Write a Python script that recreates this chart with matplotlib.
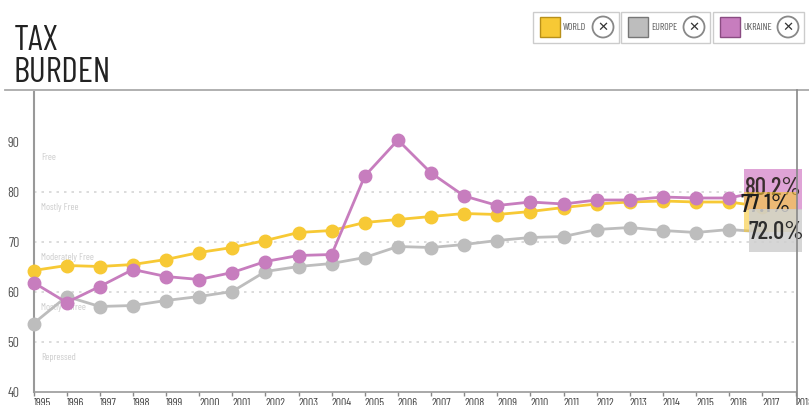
import matplotlib
matplotlib.use("Agg")
import matplotlib.pyplot as plt
from matplotlib.patches import Rectangle, Ellipse
from matplotlib.lines import Line2D

years = list(range(1995, 2018))
world = [64.3, 65.3, 65.1, 65.5, 66.5, 67.9, 68.9, 70.3, 71.9, 72.3, 73.9, 74.5,
         75.1, 75.7, 75.5, 76.1, 76.9, 77.6, 78.0, 78.2, 78.0, 78.0, 77.1]
europe = [53.7, 59.1, 57.1, 57.3, 58.3, 59.1, 60.1, 64.1, 65.1, 65.7, 66.9, 69.1,
          68.9, 69.5, 70.3, 70.9, 71.1, 72.5, 72.9, 72.3, 71.9, 72.5, 72.0]
ukraine = [61.9, 57.9, 61.1, 64.5, 63.1, 62.5, 63.9, 66.1, 67.3, 67.5, 83.2, 90.4,
           83.8, 79.2, 77.3, 78.0, 77.6, 78.4, 78.4, 79.0, 78.8, 78.8, 80.2]
tick_years = list(range(1995, 2019))
y_ticks = [40, 50, 60, 70, 80, 90]
zones = ["Free", "Mostly Free", "Moderately Free", "Mostly Unfree", "Repressed"]
zone_y = [87, 77, 67, 57, 47]
series_names = ["WORLD", "EUROPE", "UKRAINE"]
final_labels = ["77.1%", "72.0%", "80.2%"]

C_WORLD = "#F7C935"
C_EUROPE = "#BDBDBD"
C_UKR = "#C77DBE"

COND = ["Barlow Condensed", "DejaVu Sans"]

W, H = 809, 405
fig = plt.figure(figsize=(W / 100, H / 100), dpi=100)
ax = fig.add_axes([33.5 / W, (H - 392) / H, (795.5 - 33.5) / W, (392 - 92) / H])
ax.set_xlim(1995, 2018)
ax.set_ylim(40, 100)

for g in [50, 60, 70, 80]:
    ax.axhline(g, color="#D5D5D5", lw=1.2, ls=(0, (1.5, 3)), zorder=1)
for z, zy in zip(zones, zone_y):
    ax.text(1995.22, zy, z, color="#CCCCCC", fontsize=7, family=COND, va="center")

for vals, c in [(europe, C_EUROPE), (world, C_WORLD), (ukraine, C_UKR)]:
    ax.plot(years, vals, color=c, lw=2, marker="o", ms=9, zorder=3, clip_on=False)


def fig_rect(x0, y0, x1, y1, **kw):
    """Rectangle given in pixel coords from top-left of figure."""
    r = Rectangle((x0 / W, (H - y1) / H), (x1 - x0) / W, (y1 - y0) / H,
                  transform=fig.transFigure, **kw)
    fig.add_artist(r)
    return r


# end labels with boxes (layered like the reference)
fig_rect(744, 169, 802, 210, fc="#DFA3D6", ec="none", zorder=10)
fig.text(773.5 / W, (H - 188.5) / H, final_labels[2], fontsize=18, family=COND, ha="center",
         va="center", color="#3A2E2E", fontweight="medium", zorder=11)
fig_rect(744, 192, 797, 232, fc=C_WORLD, ec="none", alpha=0.6, zorder=12)
fig.text(766 / W, (H - 205) / H, final_labels[0], fontsize=18, family=COND, ha="center",
         va="center", color="#1E1E1E", fontweight="medium", zorder=13)
fig_rect(749, 209, 802, 252, fc="#CFCFCF", ec="none", alpha=0.85, zorder=14)
fig.text(776 / W, (H - 232.5) / H, final_labels[1], fontsize=18, family=COND, ha="center",
         va="center", color="#2E2E2E", fontweight="medium", zorder=15)

ax.set_xticks(tick_years)
ax.set_xticklabels([str(y) for y in tick_years], fontsize=8.5, family=COND, color="#444444",
                   ha="left")
ax.set_yticks(y_ticks)
ax.set_yticklabels([str(v) for v in y_ticks], fontsize=10, family=COND, color="#555555")
ax.tick_params(axis="x", length=3, width=1, color="#888888", pad=1)
ax.tick_params(axis="y", length=0, pad=10)
for s in ["top", "right"]:
    ax.spines[s].set_visible(False)
ax.spines["left"].set_color("#999999")
ax.spines["left"].set_linewidth(1.5)
ax.spines["bottom"].set_color("#999999")
ax.spines["bottom"].set_linewidth(1.2)

# right vertical line at 2018
fig.add_artist(Line2D([797 / W, 797 / W], [0, (H - 90) / H], color="#888888", lw=1.2,
                      zorder=20))
# top horizontal rule
fig.add_artist(Line2D([5 / W, 1], [(H - 90) / H, (H - 90) / H], color="#AAAAAA", lw=1.3))

# title
fig.text(13.5 / W, (H - 25) / H, "TAX\nBURDEN", fontsize=25.5, family=COND, color="#222222",
         va="top", ha="left", linespacing=1.02)

# legend boxes
boxes = [(533, 619), (621, 710), (713, 804)]
colors = [C_WORLD, C_EUROPE, C_UKR]
edges = ["#B8901A", "#777777", "#8A4C82"]
for (x0, x1), name, c, ec in zip(boxes, series_names, colors, edges):
    fig_rect(x0, 12, x1, 43, fc="white", ec="#CCCCCC", lw=1)
    fig_rect(x0 + 7, 17, x0 + 27, 37, fc=c, ec=ec, lw=1)
    fig.text((x0 + 30) / W, (H - 27) / H, name, fontsize=7, family=COND, color="#555555",
             va="center", ha="left")
    cx = x1 - 16
    fig.add_artist(Ellipse((cx / W, (H - 27) / H), 21 / W, 21 / H, fc="white", ec="#888888",
                           lw=1.3, transform=fig.transFigure))
    fig.text(cx / W, (H - 27.5) / H, "✕", fontsize=9.5, fontweight="bold", color="#333333",
             va="center", ha="center", family=["DejaVu Sans"])

fig.savefig("out.png", dpi=100)
